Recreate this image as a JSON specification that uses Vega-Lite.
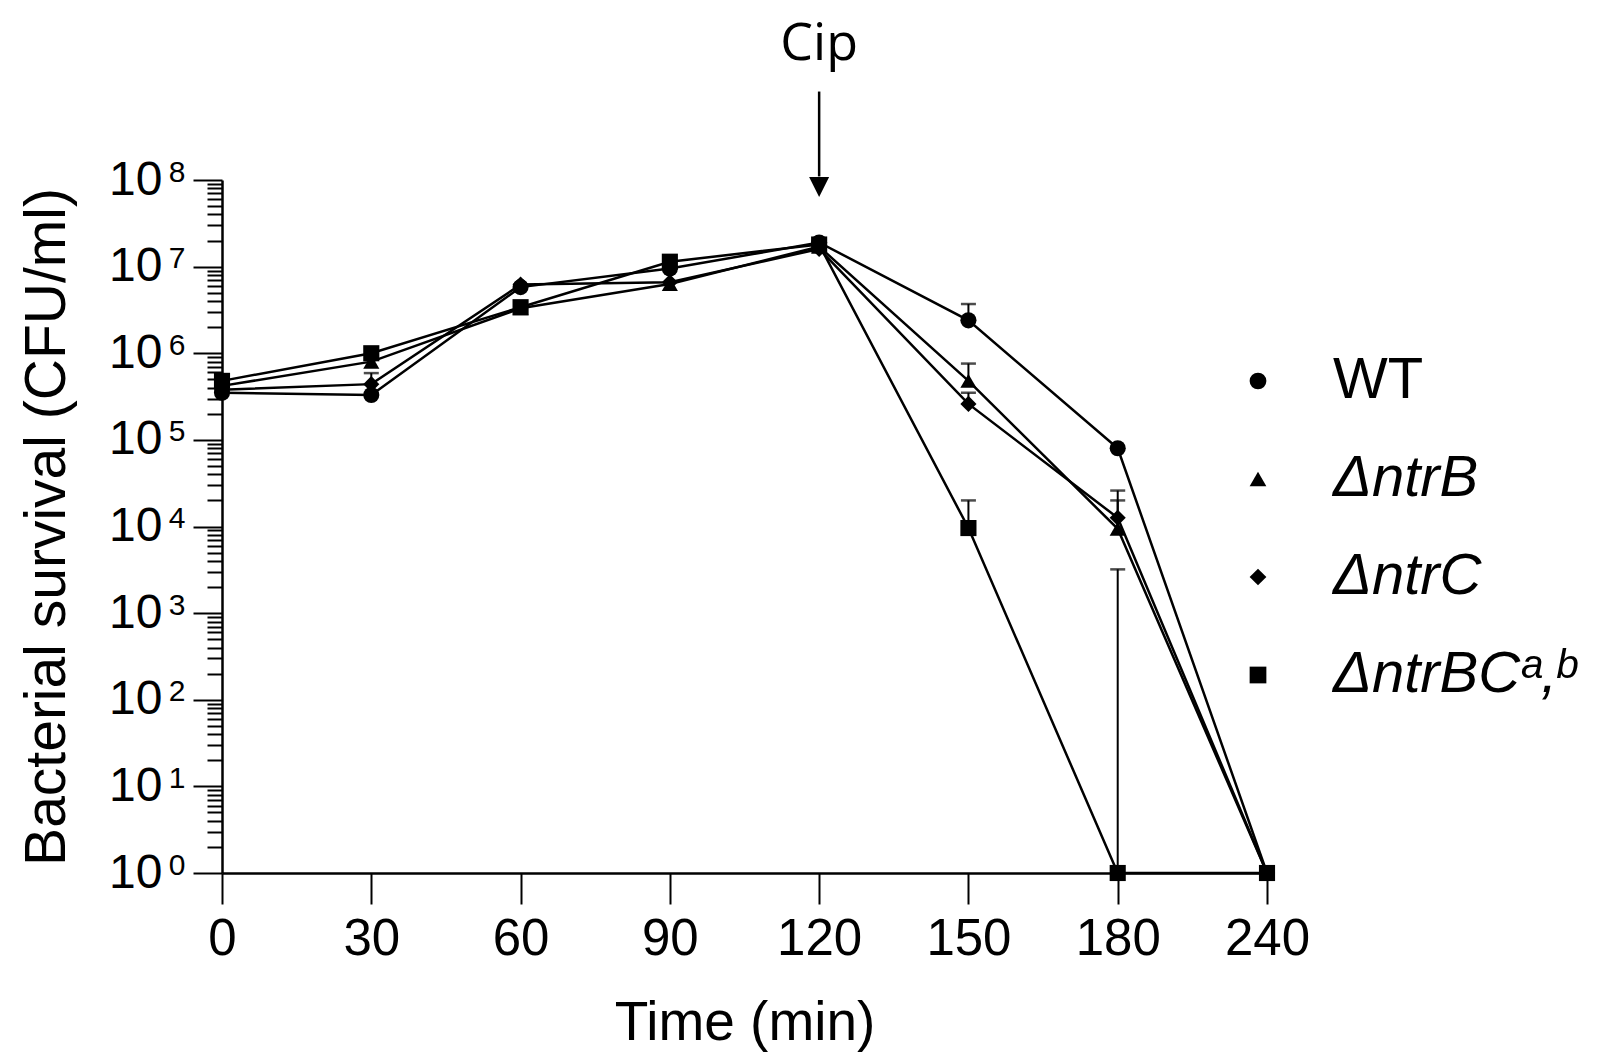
{
  "$schema": "https://vega.github.io/schema/vega-lite/v6.json",
  "width": 1045,
  "height": 693,
  "autosize": {"type": "none"},
  "padding": {"left": 222, "top": 180, "right": 339, "bottom": 191},
  "background": "white",
  "config": {
    "view": {"stroke": null},
    "font": "Liberation Sans",
    "axis": {"grid": false, "domainColor": "black", "tickColor": "black", "labelColor": "black", "titleColor": "black", "titleFontWeight": "normal", "domainWidth": 2.5, "tickWidth": 2}
  },
  "datasets": {
    "counts": [
      {"series": "WT", "time": 0, "cfu": 350000},
      {"series": "WT", "time": 30, "cfu": 330000},
      {"series": "WT", "time": 60, "cfu": 5800000},
      {"series": "WT", "time": 90, "cfu": 9500000},
      {"series": "WT", "time": 120, "cfu": 19000000},
      {"series": "WT", "time": 150, "cfu": 2400000},
      {"series": "WT", "time": 180, "cfu": 80000},
      {"series": "WT", "time": 240, "cfu": 1},
      {"series": "ΔntrB", "time": 0, "cfu": 420000},
      {"series": "ΔntrB", "time": 30, "cfu": 800000},
      {"series": "ΔntrB", "time": 60, "cfu": 3300000},
      {"series": "ΔntrB", "time": 90, "cfu": 6300000},
      {"series": "ΔntrB", "time": 120, "cfu": 17000000},
      {"series": "ΔntrB", "time": 150, "cfu": 480000},
      {"series": "ΔntrB", "time": 180, "cfu": 9400},
      {"series": "ΔntrB", "time": 240, "cfu": 1},
      {"series": "ΔntrC", "time": 0, "cfu": 380000},
      {"series": "ΔntrC", "time": 30, "cfu": 440000},
      {"series": "ΔntrC", "time": 60, "cfu": 6200000},
      {"series": "ΔntrC", "time": 90, "cfu": 6600000},
      {"series": "ΔntrC", "time": 120, "cfu": 16000000},
      {"series": "ΔntrC", "time": 150, "cfu": 260000},
      {"series": "ΔntrC", "time": 180, "cfu": 12600},
      {"series": "ΔntrC", "time": 240, "cfu": 1},
      {"series": "ΔntrBC", "time": 0, "cfu": 480000},
      {"series": "ΔntrBC", "time": 30, "cfu": 1000000},
      {"series": "ΔntrBC", "time": 60, "cfu": 3400000},
      {"series": "ΔntrBC", "time": 90, "cfu": 11400000},
      {"series": "ΔntrBC", "time": 120, "cfu": 18000000},
      {"series": "ΔntrBC", "time": 150, "cfu": 9600},
      {"series": "ΔntrBC", "time": 180, "cfu": 1},
      {"series": "ΔntrBC", "time": 240, "cfu": 1}
    ],
    "errors": [
      {"series": "ΔntrC", "time": 30, "cfu": 440000, "upper": 590000},
      {"series": "WT", "time": 150, "cfu": 2400000, "upper": 3700000},
      {"series": "ΔntrB", "time": 150, "cfu": 480000, "upper": 760000},
      {"series": "ΔntrC", "time": 150, "cfu": 260000, "upper": 350000},
      {"series": "ΔntrBC", "time": 150, "cfu": 9600, "upper": 20000},
      {"series": "ΔntrB", "time": 180, "cfu": 9400, "upper": 20000},
      {"series": "ΔntrC", "time": 180, "cfu": 12600, "upper": 26000},
      {"series": "ΔntrBC", "time": 180, "cfu": 1, "upper": 3200}
    ],
    "marks": [
      {"time": 120, "label": "Cip"}
    ]
  },
  "encoding": {
    "x": {
      "field": "time",
      "type": "ordinal",
      "scale": {"type": "point", "padding": 0},
      "axis": {
        "labelAngle": 0,
        "labelFontSize": 51,
        "labelPadding": 10,
        "tickSize": 31,
        "title": "Time (min)",
        "titleFontSize": 55,
        "titlePadding": 32
      }
    }
  },
  "layer": [
    {
      "data": {"name": "counts"},
      "mark": {"type": "line", "color": "black", "strokeWidth": 2.5},
      "encoding": {
        "y": {
          "field": "cfu",
          "type": "quantitative",
          "scale": {"type": "log", "domain": [1, 100000000], "nice": false},
          "axis": {
            "orient": "left",
            "values": [2, 3, 4, 5, 6, 7, 8, 9, 20, 30, 40, 50, 60, 70, 80, 90, 200, 300, 400, 500, 600, 700, 800, 900, 2000, 3000, 4000, 5000, 6000, 7000, 8000, 9000, 20000, 30000, 40000, 50000, 60000, 70000, 80000, 90000, 200000, 300000, 400000, 500000, 600000, 700000, 800000, 900000, 2000000, 3000000, 4000000, 5000000, 6000000, 7000000, 8000000, 9000000, 20000000, 30000000, 40000000, 50000000, 60000000, 70000000, 80000000, 90000000],
            "tickSize": 15,
            "labels": false,
            "domain": false,
            "title": null
          }
        },
        "detail": {"field": "series"}
      }
    },
    {
      "data": {"name": "errors"},
      "mark": {"type": "rule", "color": "black", "strokeWidth": 2},
      "encoding": {
        "y": {
          "field": "cfu",
          "type": "quantitative",
          "scale": {"type": "log", "domain": [1, 100000000], "nice": false},
          "axis": {
            "orient": "left",
            "values": [1, 10, 100, 1000, 10000, 100000, 1000000, 10000000, 100000000],
            "ticks": false,
            "tickSize": 0,
            "domain": false,
            "labelFontSize": 30,
            "labelPadding": 37,
            "labelOffset": -8,
            "labelExpr": "format(round(log(datum.value) / LN10), 'd')",
            "title": null
          }
        },
        "y2": {"field": "upper"}
      }
    },
    {
      "data": {"name": "errors"},
      "mark": {"type": "tick", "color": "black", "size": 15, "thickness": 2.5},
      "encoding": {
        "y": {"field": "upper", "type": "quantitative", "scale": {"type": "log", "domain": [1, 100000000], "nice": false}, "axis": null}
      }
    },
    {
      "data": {"name": "counts"},
      "mark": {"type": "point", "filled": true, "color": "black", "opacity": 1, "size": 260},
      "encoding": {
        "y": {
          "field": "cfu",
          "type": "quantitative",
          "scale": {"type": "log", "domain": [1, 100000000], "nice": false},
          "axis": {
            "orient": "left",
            "values": [1, 10, 100, 1000, 10000, 100000, 1000000, 10000000, 100000000],
            "tickSize": 29,
            "labelFontSize": 48,
            "labelPadding": 31,
            "labelExpr": "'10'",
            "title": "Bacterial survival (CFU/ml)",
            "titleFontSize": 57,
            "titlePadding": 32
          }
        },
        "shape": {
          "field": "series",
          "type": "nominal",
          "scale": {"domain": ["WT", "ΔntrB", "ΔntrC", "ΔntrBC"], "range": ["circle", "triangle-up", "diamond", "square"]},
          "legend": {
            "orient": "none",
            "legendX": 1007,
            "legendY": 172,
            "title": null,
            "padding": 0,
            "labelFontSize": 58,
            "labelColor": "black",
            "labelLimit": 0,
            "labelOffset": 46,
            "rowPadding": 40,
            "symbolSize": 280,
            "symbolFillColor": "black",
            "symbolStrokeColor": "black",
            "symbolOpacity": 1,
            "labelFontStyle": {"expr": "datum.label == 'WT' ? 'normal' : 'italic'"},
            "labelExpr": "datum.label == 'ΔntrBC' ? 'ΔntrBCᵃ,ᵇ' : datum.label"
          }
        }
      }
    },
    {
      "data": {"name": "marks"},
      "mark": {"type": "rule", "color": "black", "strokeWidth": 2.5},
      "encoding": {
        "x": {"field": "time", "type": "ordinal"},
        "y": {"datum": 1050000000, "type": "quantitative", "scale": {"type": "log", "domain": [1, 100000000], "nice": false}, "axis": null},
        "y2": {"datum": 110000000}
      }
    },
    {
      "data": {"name": "marks"},
      "mark": {"type": "point", "filled": true, "color": "black", "opacity": 1, "size": 400, "shape": "M-1,-1L1,-1L0,1Z"},
      "encoding": {
        "x": {"field": "time", "type": "ordinal"},
        "y": {"datum": 83000000, "type": "quantitative", "scale": {"type": "log", "domain": [1, 100000000], "nice": false}, "axis": null}
      }
    },
    {
      "data": {"name": "marks"},
      "mark": {"type": "text", "font": "Open Sans", "fontSize": 52, "color": "black", "align": "center", "baseline": "alphabetic"},
      "encoding": {
        "x": {"field": "time", "type": "ordinal"},
        "y": {"datum": 2440000000, "type": "quantitative", "scale": {"type": "log", "domain": [1, 100000000], "nice": false}, "axis": null},
        "text": {"field": "label"}
      }
    }
  ],
  "resolve": {"axis": {"y": "independent"}}
}
